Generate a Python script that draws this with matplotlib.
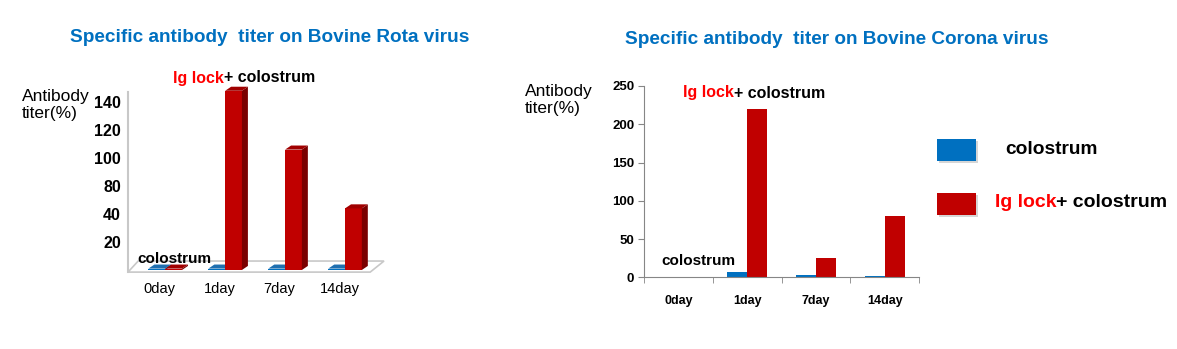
import matplotlib
matplotlib.use("Agg")
import matplotlib.pyplot as plt
import matplotlib.transforms as mtransforms
from matplotlib.patches import Polygon, Rectangle

# data
days = ["0day", "1day", "7day", "14day"]

# rota chart: positions on the drawn axis (tick labels below are as printed)
rota_ticks = [20, 40, 60, 80, 100, 120]
rota_tick_labels = ["20", "40", "80", "100", "120", "140"]
rota_colostrum = [1, 1, 1, 1]
rota_iglock = [1, 128, 86, 44]

# corona chart
corona_ticks = [0, 50, 100, 150, 200, 250]
corona_colostrum = [0, 7, 3, 2]
corona_iglock = [0, 220, 25, 80]

BLUE = "#0070C0"
RED = "#C00000"
TITLE_BLUE = "#0070C0"
W, H = 1177, 349

plt.rcParams["font.family"] = ["Liberation Sans", "DejaVu Sans"]


def fx(x):
    return x / W


def fy(y):
    return 1 - y / H


def two_color_label(fig, x, y, size):
    t = fig.text(fx(x), fy(y), "Ig lock", color="#FF0000", fontsize=size,
                 fontweight="bold", va="center", ha="left")
    fig.canvas.draw()
    ext = t.get_window_extent()
    fig.text(ext.x1 / W, fy(y), "+ colostrum", color="black", fontsize=size,
             fontweight="bold", va="center", ha="left")


def bar_3d(ax, x, w, h, face, side, top, dx, dy):
    ax.add_patch(Rectangle((x, 0), w, h, facecolor=face, edgecolor="none", clip_on=False))
    ax.add_patch(Polygon([(x + w, 0), (x + w + dx, dy), (x + w + dx, h + dy), (x + w, h)],
                         facecolor=side, edgecolor="none", clip_on=False))
    ax.add_patch(Polygon([(x, h), (x + w, h), (x + w + dx, h + dy), (x + dx, h + dy)],
                         facecolor=top, edgecolor="none", clip_on=False))


fig = plt.figure(figsize=(11.77, 3.49), dpi=100)

# ---- left chart: Bovine Rota virus ----
ax1 = fig.add_axes([fx(128), fy(270), (387 - 128) / W, 190 / H])
ax1.set_xlim(-0.62, 3.7)
ax1.set_ylim(0, 135.7)
for s in ax1.spines.values():
    s.set_visible(False)

bw = 0.28
dx, dy = 0.1, 2.9
# floor
ax1.add_patch(Polygon([(-0.62, -1.5), (3.42, -1.5), (3.65, 6.4), (-0.45, 6.4)],
                      facecolor="white", edgecolor="#c8c8c8", lw=1.2, clip_on=False, zorder=0))
ax1.plot([-0.62, -0.62], [-1.5, 127], color="#c8c8c8", lw=1.5, clip_on=False, zorder=0)
for i in range(len(days)):
    bar_3d(ax1, i - bw, bw, rota_colostrum[i], BLUE, "#004a80", "#1f6fb0", dx, dy)
    bar_3d(ax1, i, bw, rota_iglock[i], RED, "#7a0000", "#a00000", dx, dy)

ax1.set_yticks(rota_ticks)
ax1.set_yticklabels(rota_tick_labels, fontsize=11.5, fontweight="bold")
ax1.tick_params(axis="y", length=0, pad=5)
ax1.set_xticks(range(len(days)))
ax1.set_xticklabels(days, fontsize=10.5)
ax1.tick_params(axis="x", length=0, pad=9)
shift = mtransforms.ScaledTranslation(-4 / 72, 0, fig.dpi_scale_trans)
for lbl in ax1.get_xticklabels():
    lbl.set_transform(lbl.get_transform() + shift)

fig.text(fx(270), fy(37), "Specific antibody  titer on Bovine Rota virus",
         color=TITLE_BLUE, fontsize=13.7, fontweight="bold", ha="center", va="center")
fig.text(fx(22), fy(105), "Antibody\ntiter(%)", fontsize=12.5, ha="left", va="center",
         linespacing=1.1)
two_color_label(fig, 173, 78, 11.5)
fig.text(fx(137), fy(259), "colostrum", fontsize=11, fontweight="bold", ha="left", va="center")

# ---- right chart: Bovine Corona virus ----
ax2 = fig.add_axes([fx(644), fy(277.3), 275 / W, 191.3 / H])
x = range(len(days))
w = 0.29
ax2.bar([i - w / 2 for i in x], corona_colostrum, w, color=BLUE)
ax2.bar([i + w / 2 for i in x], corona_iglock, w, color=RED)
ax2.set_xlim(-0.5, 3.5)
ax2.set_ylim(0, 250)
ax2.spines["top"].set_visible(False)
ax2.spines["right"].set_visible(False)
ax2.spines["left"].set_color("#868686")
ax2.spines["bottom"].set_color("#868686")
ax2.set_yticks(corona_ticks)
ax2.set_yticklabels([str(t) for t in corona_ticks], fontsize=9.5, fontweight="bold")
ax2.tick_params(axis="y", length=4, color="#868686", pad=3)
ax2.set_xticks(list(x))
ax2.set_xticklabels(days, fontsize=9, fontweight="bold")
ax2.tick_params(axis="x", length=0, pad=13)
ax2.set_xticks([-0.5, 0.5, 1.5, 2.5, 3.5], minor=True)
ax2.tick_params(axis="x", which="minor", length=4, color="#868686")

fig.text(fx(837), fy(40), "Specific antibody  titer on Bovine Corona virus",
         color=TITLE_BLUE, fontsize=13.7, fontweight="bold", ha="center", va="center")
fig.text(fx(525), fy(100), "Antibody\ntiter(%)", fontsize=12.5, ha="left", va="center",
         linespacing=1.1)
two_color_label(fig, 683, 93, 11.5)
fig.text(fx(661), fy(261), "colostrum", fontsize=11, fontweight="bold", ha="left", va="center")

# ---- legend ----
for y0, col in [(139, BLUE), (193, RED)]:
    fig.patches.append(Rectangle((fx(939), fy(y0 + 24)), 39 / W, 22 / H, facecolor="#bbbbbb",
                                 edgecolor="none", transform=fig.transFigure, alpha=0.6))
    fig.patches.append(Rectangle((fx(937), fy(y0 + 22)), 39 / W, 22 / H, facecolor=col,
                                 edgecolor="none", transform=fig.transFigure))
fig.text(fx(1005), fy(149), "colostrum", fontsize=13.8, fontweight="bold", ha="left", va="center")
two_color_label(fig, 995, 203, 14)

fig.savefig("out.png", dpi=100)
